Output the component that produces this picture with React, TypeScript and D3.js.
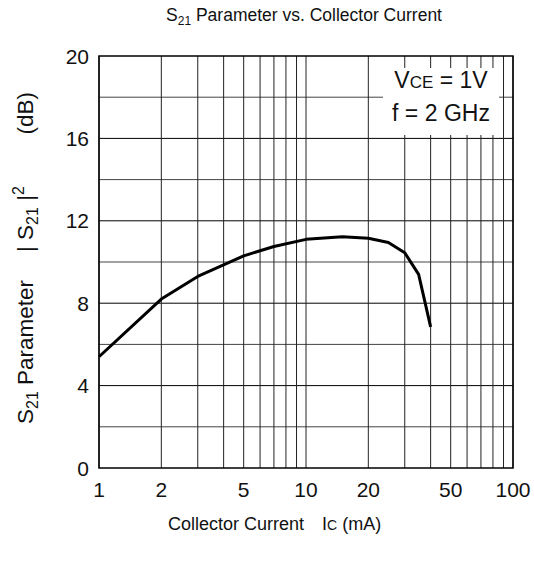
import React from "react";
import * as d3 from "d3";

const currentMA = [1, 2, 3, 5, 7, 10, 15, 20, 25, 30, 35, 40];
const s21dB = [5.4, 8.2, 9.3, 10.3, 10.75, 11.1, 11.22, 11.15, 10.95, 10.45, 9.4, 6.85];
const xTickLabels = [1, 2, 5, 10, 20, 50, 100];
const yTickLabels = [0, 4, 8, 12, 16, 20];
const xGrid = [1, 2, 3, 4, 5, 6, 7, 8, 9, 10, 20, 30, 40, 50, 60, 70, 80, 90, 100];
const yGrid = [2, 4, 6, 8, 10, 12, 14, 16, 18];

const W = 534, H = 565;
const L = 99, R = 513, T = 56, B = 468;
const FONT = "'Liberation Sans', Arial, Helvetica, sans-serif";

export default function App() {
  const x = d3.scaleLog().domain([1, 100]).range([L, R]);
  const y = d3.scaleLinear().domain([0, 20]).range([B, T]);
  const line = d3.line<number>().x((_, i) => x(currentMA[i])).y((d) => y(d));
  return (
    <svg width={W} height={H} style={{ position: "absolute", left: 0, top: 0, background: "#fff" }} fontFamily={FONT}>
      <rect x={0} y={0} width={W} height={H} fill="#fff" />
      <text x={304} y={21} textAnchor="middle" fontSize={17.5} fill="#111">
        S<tspan fontSize={12} dy={4}>21</tspan>
        <tspan dy={-4}> Parameter vs. Collector Current</tspan>
      </text>
      {yGrid.map((v) => (
        <line key={"yg" + v} x1={L} x2={R} y1={y(v)} y2={y(v)} stroke={v % 4 === 0 ? "#000" : "#444"} strokeWidth={1} />
      ))}
      {xGrid.map((v) => (
        <line key={"xg" + v} x1={x(v)} x2={x(v)} y1={T} y2={B} stroke="#222" strokeWidth={1} />
      ))}
      <rect x={383} y={68} width={116} height={67} fill="#fff" />
      <text x={441} y={88} textAnchor="middle" fontSize={23} fill="#111">
        V<tspan fontSize={17}>CE</tspan> = 1V
      </text>
      <text x={441} y={121} textAnchor="middle" fontSize={23} fill="#111">
        f = 2 GHz
      </text>
      <rect x={L} y={T} width={R - L} height={B - T} fill="none" stroke="#000" strokeWidth={1.5} />
      <path d={line(s21dB) || ""} fill="none" stroke="#000" strokeWidth={3} strokeLinejoin="round" />
      {yTickLabels.map((v) => (
        <text key={"yt" + v} x={89} y={y(v) + 7.5} textAnchor="end" fontSize={21} fill="#111">
          {v}
        </text>
      ))}
      {xTickLabels.map((v) => (
        <text key={"xt" + v} x={x(v)} y={497} textAnchor="middle" fontSize={21} fill="#111">
          {v}
        </text>
      ))}
      <text x={168} y={530} fontSize={18} fill="#111">
        Collector Current
      </text>
      <text x={322} y={530} fontSize={18} fill="#111">
        I<tspan fontSize={14}>C</tspan> (mA)
      </text>
      <g fontSize={22.5} fill="#111">
        <text transform="translate(33,424) rotate(-90)" textAnchor="start">
          S<tspan fontSize={16} dy={5}>21</tspan>
          <tspan dy={-5}> Parameter</tspan>
        </text>
        <text transform="translate(33,252) rotate(-90)" textAnchor="start">
          | S<tspan fontSize={16} dy={5}>21</tspan>
          <tspan dy={-5}> |</tspan>
          <tspan fontSize={16} dy={-9}>2</tspan>
        </text>
        <text transform="translate(33,92) rotate(-90)" textAnchor="end">
          (dB)
        </text>
      </g>
    </svg>
  );
}
